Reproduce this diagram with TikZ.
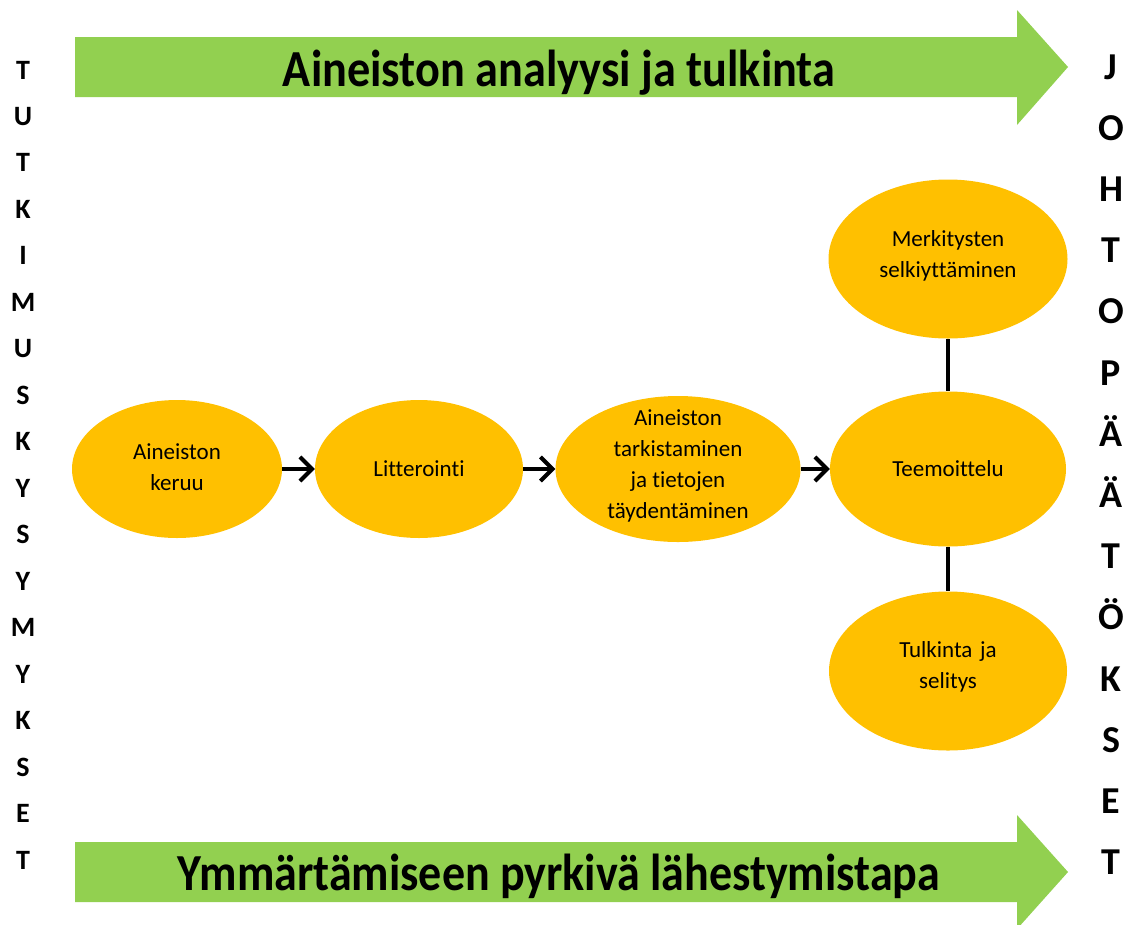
\documentclass[tikz,border=0pt]{standalone}
\usepackage{fontspec}
\setmainfont{Carlito}[Ligatures=NoCommon]
\usetikzlibrary{arrows.meta,shapes.geometric}
\definecolor{lgreen}{HTML}{92D050}
\definecolor{gold}{HTML}{FFC000}
\begin{document}
\begin{tikzpicture}[x=1pt,y=-1pt,
  bub/.style={ellipse, fill=gold, draw=none, inner sep=0pt},
  bubtext/.style={align=center, inner sep=0pt, font=\fontsize{23}{31}\selectfont},
  flow/.style={line width=4pt, -{Straight Barb[length=12pt,width=24pt]}},
  link/.style={line width=3.5pt},
  bigtext/.style={inner sep=0pt, anchor=base},
  lcol/.style={font=\fontsize{28}{28}\selectfont\bfseries, inner sep=0pt, anchor=base},
  rcol/.style={font=\fontsize{38}{38}\selectfont\bfseries, inner sep=0pt, anchor=base},
]
\useasboundingbox (0,0) rectangle (1134,924);

% big green arrows
\fill[lgreen] (75,37) -- (1017,37) -- (1017,10) -- (1068,67) -- (1017,125) -- (1017,97) -- (75,97) -- cycle;
\fill[lgreen] (75,842) -- (1017,842) -- (1017,815) -- (1068,872) -- (1017,929) -- (1017,902) -- (75,902) -- cycle;
\node[bigtext] (toptxt) at (559,86) {\resizebox{552pt}{\height}{\fontsize{52}{52}\selectfont\bfseries Aineiston analyysi ja tulkinta}};
\node[bigtext] (bottxt) at (559,890) {\resizebox{762pt}{\height}{\fontsize{52}{52}\selectfont\bfseries Ymmärtämiseen pyrkivä lähestymistapa}};

% letter columns
\foreach \ch [count=\i] in {T,U,T,K,I,M,U,S,K,Y,S,Y,M,Y,K,S,E,T}
  \node[lcol] (l\i) at (23,{70+(\i-1)*46.47+9}) {\ch};
\foreach \ch [count=\i] in {J,O,H,T,O,P,Ä,Ä,T,Ö,K,S,E,T}
  \node[rcol] (r\i) at (1111,{67+(\i-1)*61.2+12}) {\ch};

% ellipses
\node[bub, minimum width=210pt, minimum height=138pt] (e1) at (177,469) {};
\node[bub, minimum width=208pt, minimum height=138pt] (e2) at (419,469) {};
\node[bub, minimum width=245pt, minimum height=146pt] (e3) at (678,469) {};
\node[bub, minimum width=236pt, minimum height=155pt] (e4) at (948,469) {};
\node[bub, minimum width=239pt, minimum height=159pt] (e5) at (948,259) {};
\node[bub, minimum width=238pt, minimum height=159pt] (e6) at (948,671) {};

\node[bubtext] (t1) at ([yshift=2pt]e1.center) {Aineiston\\keruu};
\node[bubtext] (t2) at (e2.center) {Litterointi};
\node[bubtext] (t3) at ([yshift=3pt]e3.center) {Aineiston\\tarkistaminen\\ja tietojen\\täydentäminen};
\node[bubtext] (t4) at (e4.center) {Teemoittelu};
\node[bubtext] (t5) at ([yshift=3pt]e5.center) {Merkitysten\\selkiyttäminen};
\node[bubtext] (t6) at ([yshift=4pt]e6.center) {Tulkinta\,\,ja\\selitys};

% connectors
\draw[flow] (e1) -- (e2);
\draw[flow] (e2) -- (e3);
\draw[flow] (e3) -- (e4);
\draw[link] (e5) -- (e4);
\draw[link] (e4) -- (e6);
\end{tikzpicture}
\end{document}
